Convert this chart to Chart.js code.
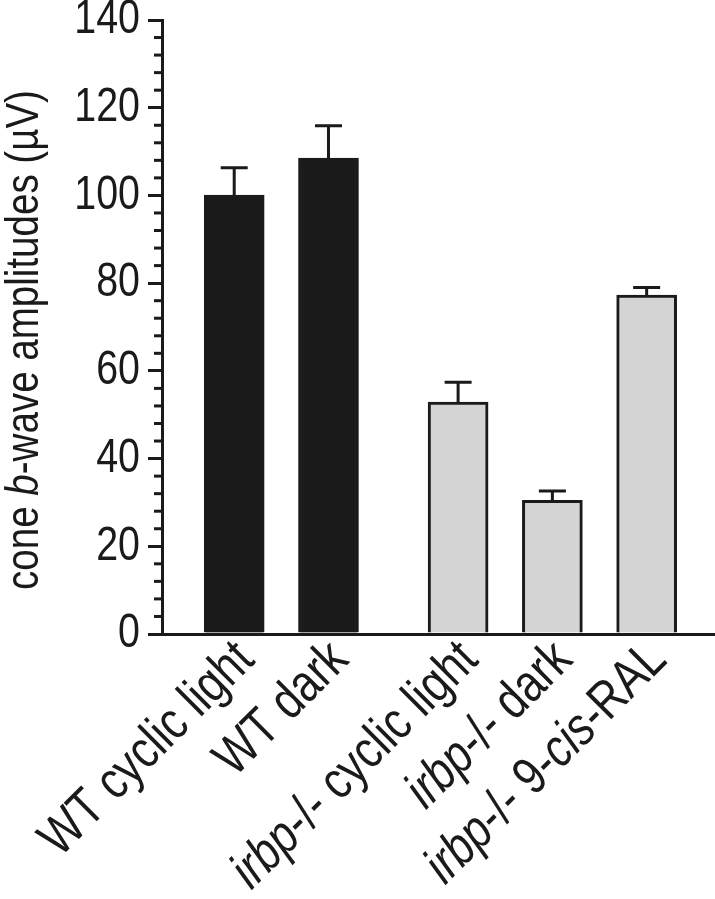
<!DOCTYPE html>
<html>
<head>
<meta charset="utf-8">
<script src="https://cdn.jsdelivr.net/npm/chart.js@4.4.0/dist/chart.umd.min.js"></script>
<style>
html, body { margin: 0; padding: 0; background: #fff; }
#wrap { width: 715px; height: 899px; }
</style>
</head>
<body>
<div id="wrap"><canvas id="grafico"></canvas></div>
<script>
const categorias = ['WT cyclic light', 'WT dark', 'irbp-/- cyclic light', 'irbp-/- dark', 'irbp-/- 9-cis-RAL']
const grupos = ['WT', 'WT', 'irbp', 'irbp', 'irbp']
const amplitudes = [100.1, 108.5, 52.9, 30.5, 77.3]
const erros = [6.2, 7.4, 4.5, 2.1, 1.7]
const yTicks = [0, 20, 40, 60, 80, 100, 120, 140]
const tituloY = ['cone ', 'b', '-wave amplitudes (µV)']

const FONTE = '"Liberation Sans", Arial, sans-serif'
const ESTREITO = 0.82 // fonte estreita (tipo Helvetica Narrow)
const PRETO = '#1a1a1a'
const GAP = 0.375 // espaco extra entre os grupos

let posicoes = categorias.map((c, i) => i + (grupos[i] === 'irbp' ? GAP : 0))

function partes(txt) {
    return txt.split(/(irbp|cis)/).filter(s => s).map(s => ({ t: s, it: s === 'irbp' || s === 'cis' }))
}

// escreve texto com trechos em italico, alinhado a direita (ou centrado)
function escreve(c, segs, size, alinha) {
    c.scale(ESTREITO, 1)
    let total = 0
    segs.forEach(s => {
        c.font = (s.it ? 'italic ' : '') + size + 'px ' + FONTE
        s.w = c.measureText(s.t).width
        total += s.w
    })
    let x = alinha === 'centro' ? -total / 2 : -total
    segs.forEach(s => {
        c.font = (s.it ? 'italic ' : '') + size + 'px ' + FONTE
        c.fillText(s.t, x, 0)
        x += s.w
    })
}

const extras = {
    id: 'extras',
    afterDatasetsDraw(chart) {
        let c = chart.ctx
        let xs = chart.scales.x
        let ys = chart.scales.y
        c.save()
        c.strokeStyle = PRETO
        c.lineWidth = 3
        // barras de erro
        amplitudes.forEach((v, i) => {
            let x = xs.getPixelForValue(posicoes[i])
            let y0 = ys.getPixelForValue(v)
            let y1 = ys.getPixelForValue(v + erros[i])
            c.beginPath()
            c.moveTo(x, y0); c.lineTo(x, y1)
            c.moveTo(x - 13.5, y1); c.lineTo(x + 13.5, y1)
            c.stroke()
        })
        // ticks menores
        for (let v = 4; v < 140; v += 4) {
            if (v % 20 === 0) continue
            let y = ys.getPixelForValue(v)
            c.beginPath()
            c.moveTo(ys.right - 8, y); c.lineTo(ys.right, y)
            c.stroke()
        }
        c.fillStyle = PRETO
        c.textAlign = 'left'
        // numeros do eixo y
        c.textBaseline = 'middle'
        yTicks.forEach(v => {
            c.save()
            c.translate(ys.right - 22, ys.getPixelForValue(v))
            escreve(c, [{ t: String(v), it: false }], 48, 'direita')
            c.restore()
        })
        // titulo do eixo y
        c.save()
        c.translate(25, 340)
        c.rotate(-Math.PI / 2)
        escreve(c, tituloY.map((t, i) => ({ t: t, it: i === 1 })), 47, 'centro')
        c.restore()
        // rotulos do eixo x
        c.textBaseline = 'alphabetic'
        categorias.forEach((cat, i) => {
            c.save()
            c.translate(xs.getPixelForValue(posicoes[i]) + 22, ys.bottom + 28)
            c.rotate(-45 * Math.PI / 180)
            escreve(c, partes(cat), 53, 'direita')
            c.restore()
        })
        c.restore()
    }
}

let ctx = document.getElementById('grafico').getContext('2d')
let chart = new Chart(ctx, {
    type: 'bar',
    data: {
        datasets: [{
            data: amplitudes.map((v, i) => ({ x: posicoes[i], y: v })),
            backgroundColor: grupos.map(g => g === 'WT' ? PRETO : '#d4d4d4'),
            borderColor: PRETO,
            borderWidth: 3,
            borderSkipped: 'bottom',
            barThickness: 60
        }]
    },
    options: {
        responsive: true,
        maintainAspectRatio: false,
        animation: false,
        layout: { padding: { top: 20, left: 0, right: 0, bottom: 265 } },
        plugins: { legend: { display: false }, tooltip: { enabled: false } },
        scales: {
            x: {
                type: 'linear',
                offset: false,
                min: -0.766,
                max: 5.1,
                grid: { display: false, drawTicks: false },
                ticks: { display: false },
                border: { display: true, width: 3, color: PRETO }
            },
            y: {
                min: 0,
                max: 140,
                ticks: { display: false, stepSize: 20 },
                grid: { drawOnChartArea: false, tickLength: 14, tickWidth: 3, lineWidth: 3, color: PRETO },
                border: { width: 3, color: PRETO },
                afterFit(s) {
                    s.width = 162
                    s.paddingTop = 0
                    s.paddingBottom = 0
                }
            }
        }
    },
    plugins: [extras]
})
</script>
</body>
</html>
